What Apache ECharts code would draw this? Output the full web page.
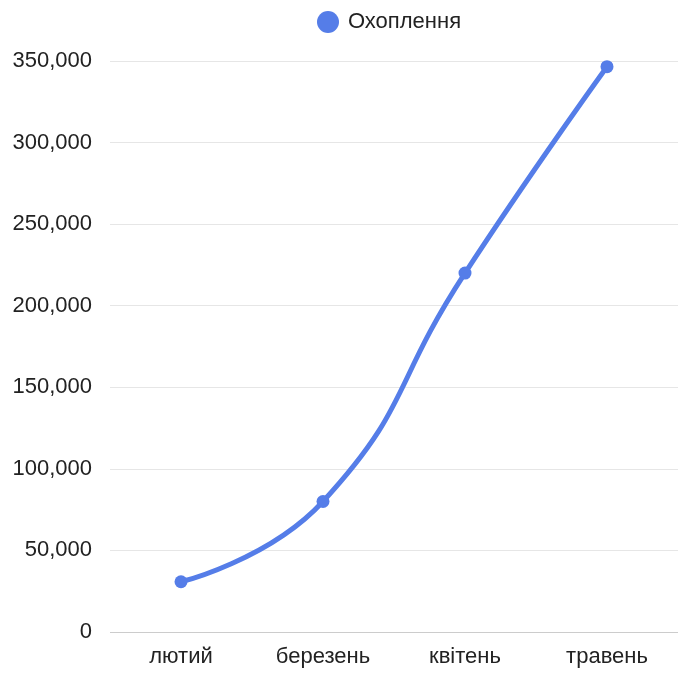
<!DOCTYPE html>
<html><head><meta charset="utf-8">
<script src="https://cdn.jsdelivr.net/npm/echarts@6/dist/echarts.min.js"></script>
<style>html,body{margin:0;padding:0;background:#fff}#c{width:678px;height:675px}</style>
</head><body><div id="c"></div>
<script>
const categories = ['лютий', 'березень', 'квітень', 'травень'];
const seriesName = 'Охоплення';
const values = [30800, 80000, 220000, 346500];
const yTicks = [0, 50000, 100000, 150000, 200000, 250000, 300000, 350000];

const chart = echarts.init(document.getElementById('c'), null, {renderer: 'canvas'});
const font = '"Liberation Sans", Arial, sans-serif';
chart.setOption({
  animation: false,
  backgroundColor: '#fff',
  legend: {
    data: [{name: seriesName, icon: 'circle'}],
    left: 312, top: 6,
    itemWidth: 22, itemHeight: 22, itemGap: 8,
    textStyle: {fontSize: 22, color: '#222', fontFamily: font, padding: [0, 0, 0, 4]}
  },
  grid: {left: 110, right: -4, top: 61, bottom: 43},
  xAxis: {
    type: 'category', data: categories, boundaryGap: true,
    axisLine: {show: false}, axisTick: {show: false},
    axisLabel: {fontSize: 22, color: '#222', fontFamily: font, margin: 14}
  },
  yAxis: {
    type: 'value', min: yTicks[0], max: yTicks[yTicks.length-1], interval: 50000,
    axisLine: {show: false}, axisTick: {show: false},
    axisLabel: {fontSize: 22, color: '#222', fontFamily: font, margin: 18,
      formatter: v => v.toLocaleString('en-US')},
    splitLine: {lineStyle: {color: ['#cccccc','#e6e6e6','#e6e6e6','#e6e6e6','#e6e6e6','#e6e6e6','#e6e6e6','#e6e6e6'], width: 1}}
  },
  series: [{
    name: seriesName, type: 'line',
    data: values, smooth: 0.5,
    symbol: 'circle', symbolSize: 13,
    lineStyle: {width: 5, color: '#557DE8'},
    itemStyle: {color: '#557DE8'}
  }]
});
</script></body></html>
